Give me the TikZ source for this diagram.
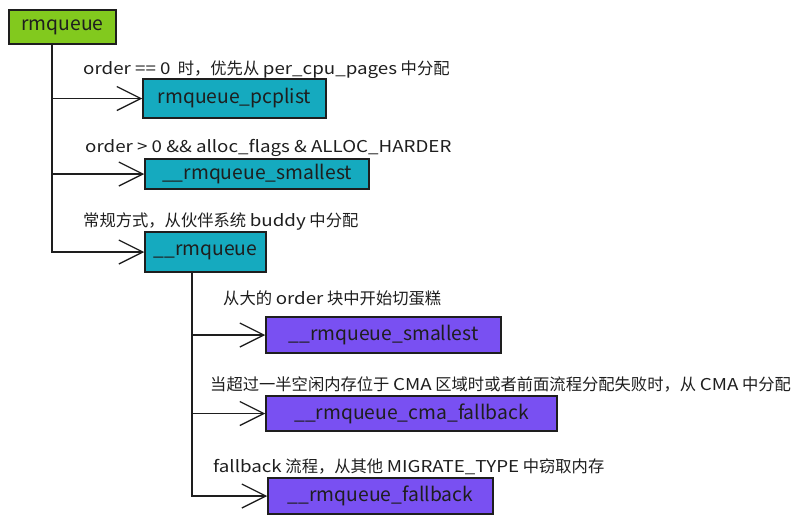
\documentclass[tikz,border=0pt]{standalone}
\usepackage{fontspec}
\setmainfont{Noto Sans CJK SC}
% wider cut of the same face for the Latin words inside the notes
\newfontfamily\lat[FakeStretch=1.15]{Noto Sans CJK SC}
\usetikzlibrary{arrows.meta}
\definecolor{ink}{HTML}{1E1E1E}
\definecolor{lime}{HTML}{82C91E}
\definecolor{cyanbox}{HTML}{15AABF}
\definecolor{violetbox}{HTML}{7950F2}
\begin{document}
\begin{tikzpicture}[x=1pt,y=-1pt,
  fnbox/.style={draw=ink, line width=1.5pt, inner sep=0pt, text=ink,
    font=\fontsize{19.3}{21}\selectfont},
  note/.style={anchor=west, inner sep=0pt, text=ink,
    font=\fontsize{16.3}{18}\selectfont},
  link/.style={draw=ink, line width=1.3pt,
    -{Straight Barb[length=24pt,width=24pt,line width=1.3pt]}},
]
\useasboundingbox (0,0) rectangle (801,523);

% entry point
\node[fnbox, fill=lime, minimum width=107pt, minimum height=34pt] (rmq) at (62.5,27) {rmqueue};

% first-level paths
\node[fnbox, fill=cyanbox, minimum width=183pt, minimum height=39pt] (pcp) at (234.5,98.5) {rmqueue\_pcplist};
\node[fnbox, fill=cyanbox, minimum width=224pt, minimum height=30pt] (small1) at (257,174) {\_\_rmqueue\_smallest};
\node[fnbox, fill=cyanbox, minimum width=121pt, minimum height=40pt] (rm) at (205.5,252) {\_\_rmqueue};

% buddy-allocator paths
\node[fnbox, fill=violetbox, minimum width=235pt, minimum height=36pt] (small2) at (383.5,335) {\_\_rmqueue\_smallest};
\node[fnbox, fill=violetbox, minimum width=291pt, minimum height=35pt] (cma) at (411.5,413.5) {\_\_rmqueue\_cma\_fallback};
\node[fnbox, fill=violetbox, minimum width=225pt, minimum height=36pt] (fb) at (380.5,496) {\_\_rmqueue\_fallback};

% notes
\node[note] (n1) at (83,70) {{\lat order == 0}\ \ 时，优先从 {\lat per\_cpu\_pages} 中分配};
\node[note] (n2) at (85,148) {\lat order > 0 \&\& alloc\_flags \& ALLOC\_HARDER};
\node[note] (n3) at (83,222) {常规方式，从伙伴系统 {\lat buddy} 中分配};
\node[note] (n4) at (223,298) {从大的 {\lat order} 块中开始切蛋糕};
\node[note] (n5) at (210,384) {当超过一半空闲内存位于 {\lat CMA} 区域时或者前面流程分配失败时，从 {\lat CMA} 中分配};
\node[note] (n6) at (213,467) {{\lat fallback} 流程，从其他 {\lat MIGRATE\_TYPE} 中窃取内存};

% trunk positions
\coordinate (t1) at (52,0);
\coordinate (t2) at (192,0);

% branches from rmqueue
\draw[link] (rmq.south -| t1) |- (rm.west);
\draw[link] (pcp.west -| t1) -- (pcp.west);
\draw[link] (small1.west -| t1) -- (small1.west);

% branches from __rmqueue
\draw[link] (rm.south -| t2) |- (fb.west);
\draw[link] (small2.west -| t2) -- (small2.west);
\draw[link] (cma.west -| t2) -- (cma.west);
\end{tikzpicture}
\end{document}
